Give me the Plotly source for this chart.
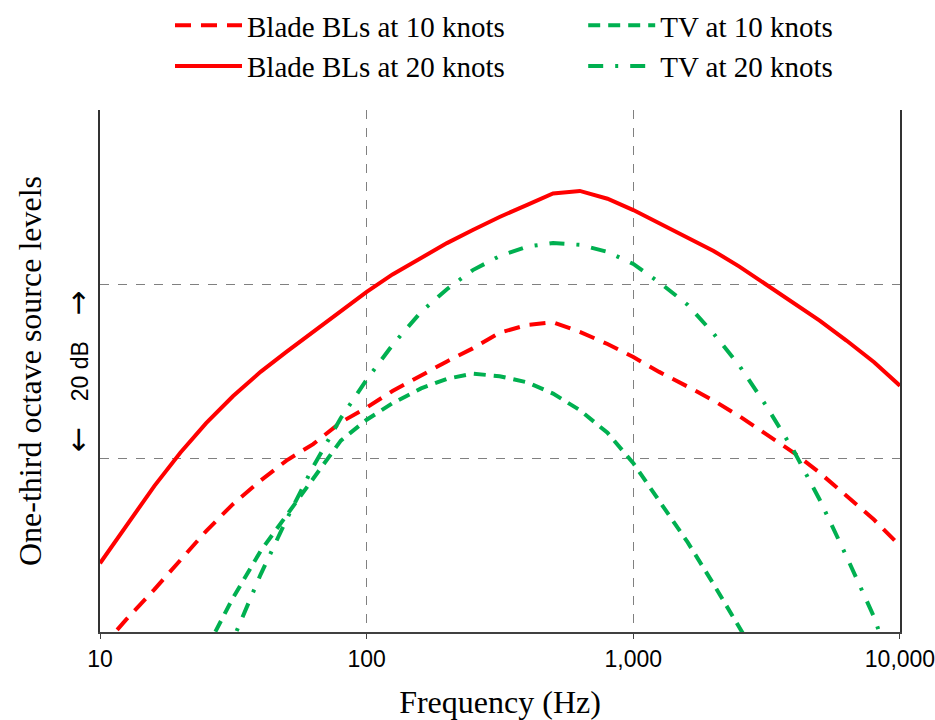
import plotly.graph_objects as go

# One-third octave band centre frequencies (Hz)
freq = [10, 12.5, 16, 20, 25, 31.5, 40, 50, 63, 80, 100, 125, 160, 200, 250,
        315, 400, 500, 630, 800, 1000, 1250, 1600, 2000, 2500, 3150, 4000,
        5000, 6300, 8000, 10000]

# Relative source levels (dB)
blade_10kn = [-2.0, 1.4, 4.9, 8.3, 11.6, 14.7, 17.4, 19.7, 21.6, 24.1, 25.8,
              27.7, 29.5, 31.1, 32.6, 34.4, 35.3, 35.6, 34.5, 33.1, 31.6, 29.9,
              28.2, 26.6, 24.8, 22.8, 20.6, 18.3, 15.7, 12.9, 9.9]
blade_20kn = [7.9, 12.1, 16.8, 20.6, 24.0, 27.1, 29.9, 32.2, 34.5, 36.8, 39.1,
              41.1, 43.0, 44.7, 46.2, 47.7, 49.1, 50.4, 50.7, 49.8, 48.5, 47.0,
              45.4, 43.8, 42.0, 39.9, 37.8, 35.8, 33.5, 31.0, 28.3]

tv_freq = freq[4:27]
tv_10kn = [-2.0, 3.9, 9.3, 13.4, 17.8, 22.0, 24.4, 26.3, 28.0, 29.1, 29.7,
           29.4, 28.7, 27.4, 25.5, 22.9, 19.4, 15.0, 10.3, 5.5, 0.5, -4.8, -10.0]
tv20_freq = freq[4:]
tv_20kn = [-7.0, -0.9, 6.6, 12.9, 19.0, 24.6, 29.0, 33.0, 36.8, 39.4, 41.6,
           43.2, 44.3, 44.7, 44.5, 43.7, 42.3, 40.2, 37.6, 34.3, 30.6, 26.0,
           20.8, 15.2, 8.7, 1.7, -7.0]

x_ticks = [10, 100, 1000, 10000]
x_tick_text = ["10", "100", "1,000", "10,000"]

RED = "#FF0000"
GREEN = "#00B050"
SERIF = "Liberation Serif, Times New Roman, serif"
SANS = "Liberation Sans, Arial, sans-serif"

fig = go.Figure()
# Blade boundary-layer noise goes in the first legend column, tip-vortex noise in the second
fig.add_trace(go.Scatter(x=freq, y=blade_10kn, mode="lines", name="Blade BLs at 10 knots",
                         legend="legend",
                         line=dict(color=RED, width=4, dash="16px,10px")))
fig.add_trace(go.Scatter(x=freq, y=blade_20kn, mode="lines", name="Blade BLs at 20 knots",
                         legend="legend",
                         line=dict(color=RED, width=4)))
fig.add_trace(go.Scatter(x=tv_freq, y=tv_10kn, mode="lines", name="TV at 10 knots",
                         legend="legend2",
                         line=dict(color=GREEN, width=4, dash="12px,8px")))
fig.add_trace(go.Scatter(x=tv20_freq, y=tv_20kn, mode="lines", name="TV at 20 knots",
                         legend="legend2",
                         line=dict(color=GREEN, width=4, dash="15px,12px,3px,12px")))

legend_style = dict(orientation="v", xanchor="left", yref="container", y=1,
                    yanchor="top", font=dict(family=SERIF, size=29, color="black"),
                    itemwidth=67, tracegroupgap=0, bgcolor="rgba(0,0,0,0)",
                    traceorder="normal")

fig.update_layout(
    width=935, height=720,
    margin=dict(l=100, r=35, t=110, b=88),
    paper_bgcolor="white", plot_bgcolor="white",
    showlegend=True,
    legend=dict(x=0.0875, **legend_style),
    legend2=dict(x=0.604, **legend_style),
    xaxis=dict(type="log", range=[0.9999, 4.0001], tickvals=x_ticks, ticktext=x_tick_text,
               showgrid=True, gridcolor="#808080", griddash="dash", gridwidth=1,
               showline=True, linecolor="#404040", linewidth=2, mirror=False,
               ticks="outside", ticklen=5, tickcolor="#404040",
               ticklabeloverflow="allow", automargin=False,
               tickfont=dict(family=SANS, size=23, color="black"),
               title=dict(text="Frequency (Hz)", standoff=25,
                          font=dict(family=SERIF, size=32, color="black")),
               zeroline=False),
    yaxis=dict(range=[0, 60], tickvals=[0, 20, 40, 60], showticklabels=False,
               showgrid=True, gridcolor="#808080", griddash="dash", gridwidth=1,
               showline=True, linecolor="#333333", linewidth=1.5, mirror=True,
               ticks="", zeroline=False, automargin=False,
               title=dict(text="One-third octave source levels", standoff=47,
                          font=dict(family=SERIF, size=32, color="black"))),
)

nb = "\u00a0" * 4
arrow = '<span style="font-family:DejaVu Sans;font-size:30px">{}</span>'
fig.add_annotation(text=arrow.format("\u2190") + nb + "20 dB" + nb + arrow.format("\u2192"),
                   xref="paper", x=0, xanchor="center", xshift=-23,
                   yref="y", y=30, textangle=-90, showarrow=False,
                   font=dict(family=SANS, size=23, color="black"))

fig.write_html("out.html")
